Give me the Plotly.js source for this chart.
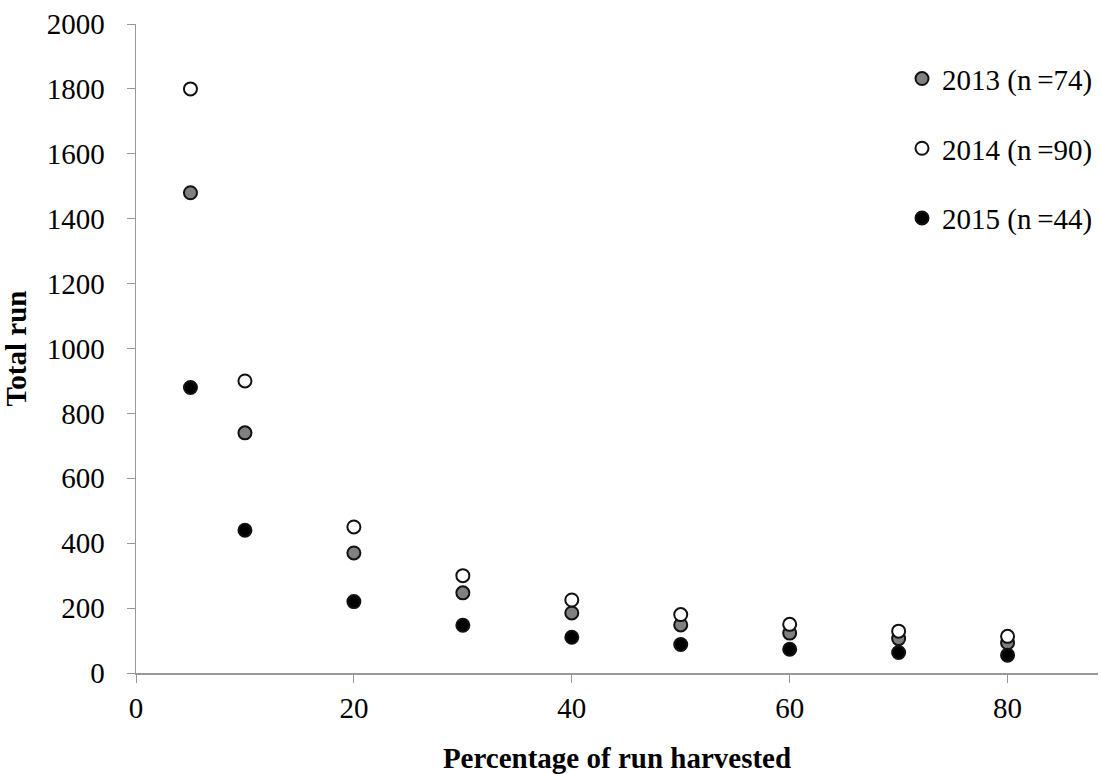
<!DOCTYPE html>
<html><head><meta charset="utf-8">
<script src="https://cdn.plot.ly/plotly-3.0.1.min.js"></script>
<style>body{margin:0;background:#fff}#c{width:1101px;height:774px}</style>
</head><body><div id="c"></div>
<script>
const pctHarvested = [5, 10, 20, 30, 40, 50, 60, 70, 80];
const run2013 = [1480, 740, 370, 247, 185, 148, 123, 106, 93];
const run2014 = [1800, 900, 450, 300, 225, 180, 150, 129, 113];
const run2015 = [880, 440, 220, 147, 110, 88, 73, 63, 55];
const seriesNames = ['2013 (n\u2009=74)', '2014 (n\u2009=90)', '2015 (n\u2009=44)'];
const xTicks = [0, 20, 40, 60, 80];
const yTicks = [0, 200, 400, 600, 800, 1000, 1200, 1400, 1600, 1800, 2000];

const font = 'Liberation Serif';
const fs = 29;
function tr(y, name, fill, rank, grp){
  return {x: pctHarvested, y: y, name: name, type: 'scatter', mode: 'markers',
    legendrank: rank, legendgroup: grp,
    marker: {size: 13, color: fill, line: {color: '#111', width: 2}}};
}
const data = [
  tr(run2013, seriesNames[0], '#808080', 1, 'a'),
  tr(run2015, seriesNames[2], '#000000', 3, 'c'),
  tr(run2014, seriesNames[1], '#ffffff', 2, 'b')
];
const layout = {
  width: 1101, height: 774,
  margin: {l: 136, r: 3, t: 24, b: 101, autoexpand: false},
  paper_bgcolor: '#fff', plot_bgcolor: '#fff',
  font: {family: font, size: fs, color: '#000'},
  showlegend: true,
  legend: {x: 1.0, xanchor: 'right', y: 0.955, yanchor: 'top', traceorder: 'grouped',
    tracegroupgap: 29, font: {family: font, size: fs}, itemwidth: 30, bgcolor: 'rgba(0,0,0,0)'},
  xaxis: {range: [0, 88.3], tickvals: xTicks, ticks: 'outside', ticklen: 8, tickcolor: '#999',
    showline: true, linecolor: '#999', linewidth: 1.5, showgrid: false, zeroline: false,
    tickfont: {family: font, size: fs}, ticklabelstandoff: 1,
    title: {text: '<b>Percentage of run harvested</b>', font: {family: font, size: fs}, standoff: 26}},
  yaxis: {range: [0, 2000], tickvals: yTicks, ticks: 'outside', ticklen: 8, tickcolor: '#999',
    showline: true, linecolor: '#999', linewidth: 1.5, showgrid: false, zeroline: false,
    tickfont: {family: font, size: fs}, ticklabelstandoff: 16,
    title: {text: '<b>Total run</b>', font: {family: font, size: fs}, standoff: 12}}
};
Plotly.newPlot('c', data, layout, {staticPlot: true});
</script></body></html>
